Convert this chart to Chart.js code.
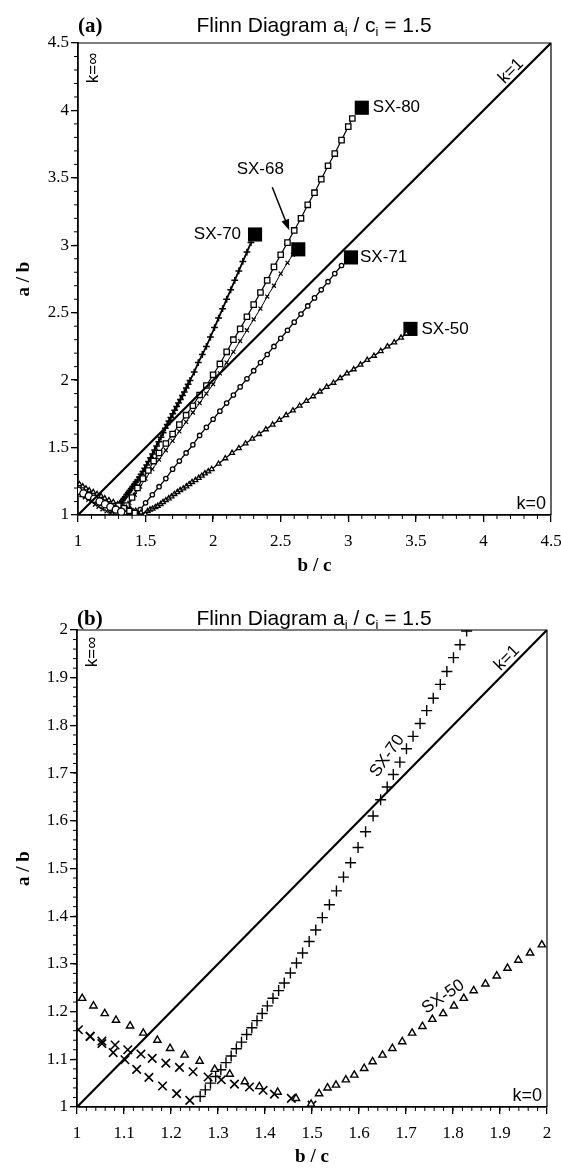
<!DOCTYPE html>
<html>
<head>
<meta charset="utf-8">
<script src="https://cdn.jsdelivr.net/npm/chart.js@4.4.1/dist/chart.umd.min.js"></script>
<style>
  html, body { margin: 0; padding: 0; background: #fff; }
  .panel { position: relative; width: 561px; }
  #wrapA { height: 580px; }
  #wrapB { height: 588px; }
</style>
</head>
<body>
<div class="panel" id="wrapA"><canvas id="chartA"></canvas></div>
<div class="panel" id="wrapB"><canvas id="chartB"></canvas></div>
<script>
var SERIF = '"Liberation Serif", "Times New Roman", serif';
var SANS = '"Liberation Sans", Arial, sans-serif';

// title pieces: [text, isSubscript]
var titleParts = [['Flinn Diagram a', 0], ['i', 1], [' / c', 0], ['i', 1], [' = 1.5', 0]];

// tick labels
var ticksA = [1, 1.5, 2, 2.5, 3, 3.5, 4, 4.5];
var ticksB = [1, 1.1, 1.2, 1.3, 1.4, 1.5, 1.6, 1.7, 1.8, 1.9, 2];

// k = 1 reference line
var kLineA = [1, 4.5];
var kLineB = [1, 2];

// final states (filled squares)
var sampleNames = ['SX-80', 'SX-68', 'SX-70', 'SX-71', 'SX-50'];
var endBC = [3.10, 2.63, 2.31, 3.02, 3.46];
var endAB = [4.02, 2.97, 3.08, 2.91, 2.38];

// SX-70
var sx70FallBC = [1.003, 1.028, 1.053, 1.077, 1.102, 1.127, 1.153, 1.182, 1.212, 1.240];
var sx70FallAB = [1.162, 1.148, 1.133, 1.114, 1.099, 1.079, 1.062, 1.044, 1.028, 1.014];
var sx70RiseBC = [1.262, 1.273, 1.284, 1.295, 1.306, 1.317, 1.328, 1.339, 1.350, 1.361,
                  1.372, 1.383, 1.394, 1.405, 1.417, 1.429, 1.441, 1.454, 1.467, 1.480,
                  1.494, 1.508, 1.522, 1.537, 1.552, 1.567, 1.582, 1.598, 1.614, 1.630,
                  1.646, 1.660, 1.673, 1.687, 1.701, 1.715, 1.730, 1.744, 1.758, 1.773,
                  1.787, 1.801, 1.815, 1.829, 1.86, 1.89, 1.92, 1.95, 1.98, 2.01,
                  2.04, 2.07, 2.10, 2.13, 2.16, 2.19, 2.22, 2.25, 2.28];
var sx70RiseAB = [1.022, 1.036, 1.050, 1.064, 1.078, 1.093, 1.107, 1.122, 1.136, 1.152,
                  1.166, 1.181, 1.196, 1.212, 1.228, 1.244, 1.260, 1.281, 1.302, 1.323,
                  1.347, 1.371, 1.397, 1.424, 1.453, 1.482, 1.512, 1.544, 1.577, 1.610,
                  1.644, 1.671, 1.697, 1.723, 1.751, 1.777, 1.804, 1.831, 1.857, 1.886,
                  1.913, 1.942, 1.969, 1.998, 2.06, 2.13, 2.19, 2.25, 2.32, 2.39,
                  2.46, 2.53, 2.60, 2.67, 2.74, 2.81, 2.88, 2.95, 3.02];

// SX-50
var sx50FallBC = [1.011, 1.035, 1.059, 1.083, 1.113, 1.141, 1.171, 1.198, 1.229, 1.261,
                  1.293, 1.325, 1.357, 1.388, 1.427, 1.466, 1.498];
var sx50FallAB = [1.228, 1.212, 1.196, 1.182, 1.170, 1.155, 1.140, 1.123, 1.109, 1.096,
                  1.079, 1.069, 1.053, 1.043, 1.031, 1.018, 1.006];
var sx50CrossBC = [1.028, 1.053, 1.081, 1.108, 1.136, 1.160, 1.189, 1.218, 1.247, 1.279,
                   1.307, 1.335, 1.367, 1.396, 1.420, 1.456, 1.500];
var sx50CrossAB = [1.148, 1.138, 1.130, 1.120, 1.111, 1.102, 1.092, 1.083, 1.074, 1.063,
                   1.057, 1.048, 1.042, 1.035, 1.027, 1.018, 1.004];
var sx50RiseBC = [1.515, 1.533, 1.551, 1.572, 1.590, 1.611, 1.629, 1.650, 1.671, 1.692,
                  1.713, 1.735, 1.756, 1.779, 1.802, 1.823, 1.844, 1.869, 1.893, 1.916,
                  1.939, 1.964, 1.989, 2.04, 2.09, 2.14, 2.19, 2.24, 2.29, 2.34,
                  2.39, 2.44, 2.49, 2.54, 2.59, 2.64, 2.69, 2.74, 2.79, 2.84,
                  2.89, 2.94, 2.99, 3.04, 3.09, 3.14, 3.19, 3.24, 3.29, 3.34,
                  3.39, 3.43];
var sx50RiseAB = [1.028, 1.040, 1.046, 1.057, 1.067, 1.081, 1.095, 1.109, 1.123, 1.137,
                  1.155, 1.169, 1.184, 1.196, 1.212, 1.228, 1.244, 1.258, 1.275, 1.291,
                  1.308, 1.323, 1.340, 1.38, 1.42, 1.46, 1.495, 1.53, 1.565, 1.60,
                  1.635, 1.67, 1.705, 1.74, 1.775, 1.81, 1.845, 1.88, 1.915, 1.95,
                  1.98, 2.015, 2.05, 2.08, 2.115, 2.15, 2.18, 2.215, 2.25, 2.28,
                  2.315, 2.345];

// SX-80
var sx80FallBC = [1.00, 1.04, 1.08, 1.12, 1.16, 1.20, 1.24, 1.28, 1.32];
var sx80FallAB = [1.18, 1.16, 1.14, 1.12, 1.10, 1.08, 1.06, 1.04, 1.025];
var sx80RiseBC = [1.36, 1.40, 1.44, 1.48, 1.52, 1.56, 1.60, 1.65, 1.70, 1.75,
                  1.80, 1.85, 1.90, 1.95, 2.00, 2.05, 2.10, 2.15, 2.20, 2.25,
                  2.30, 2.35, 2.40, 2.45, 2.50, 2.55, 2.60, 2.65, 2.70, 2.75,
                  2.80, 2.85, 2.90, 2.95, 3.00, 3.03];
var sx80RiseAB = [1.07, 1.13, 1.20, 1.27, 1.33, 1.40, 1.46, 1.53, 1.60, 1.67,
                  1.74, 1.81, 1.89, 1.96, 2.04, 2.12, 2.21, 2.30, 2.38, 2.47,
                  2.56, 2.65, 2.74, 2.84, 2.93, 3.02, 3.11, 3.20, 3.30, 3.39,
                  3.49, 3.59, 3.68, 3.78, 3.88, 3.94];

// SX-68
var sx68RiseBC = [1.34, 1.38, 1.42, 1.46, 1.50, 1.55, 1.60, 1.65, 1.70, 1.75,
                  1.80, 1.85, 1.90, 1.95, 2.00, 2.05, 2.10, 2.15, 2.20, 2.25,
                  2.30, 2.35, 2.40, 2.45, 2.50, 2.55, 2.59];
var sx68RiseAB = [1.04, 1.09, 1.15, 1.21, 1.27, 1.34, 1.41, 1.48, 1.55, 1.62,
                  1.69, 1.76, 1.83, 1.90, 1.97, 2.05, 2.13, 2.21, 2.29, 2.37,
                  2.45, 2.53, 2.62, 2.70, 2.79, 2.87, 2.93];

// SX-71
var sx71FallBC = [1.30, 1.34, 1.38, 1.42];
var sx71FallAB = [1.07, 1.05, 1.03, 1.015];
var sx71RiseBC = [1.46, 1.50, 1.55, 1.60, 1.65, 1.70, 1.75, 1.80, 1.85, 1.90,
                  1.95, 2.00, 2.05, 2.10, 2.15, 2.20, 2.25, 2.30, 2.35, 2.40,
                  2.45, 2.50, 2.55, 2.60, 2.65, 2.70, 2.75, 2.80, 2.85, 2.90,
                  2.95];
var sx71RiseAB = [1.04, 1.09, 1.15, 1.21, 1.27, 1.34, 1.40, 1.46, 1.52, 1.59,
                  1.65, 1.71, 1.77, 1.83, 1.89, 1.95, 2.01, 2.07, 2.13, 2.19,
                  2.25, 2.31, 2.37, 2.43, 2.49, 2.55, 2.61, 2.67, 2.73, 2.79,
                  2.85];

function series(xs, ys, style, r, extra) {
    var ds = {
        data: xs.map(function(x, i) { return { x: x, y: ys[i] }; }),
        pointStyle: style,
        pointRadius: r,
        pointHoverRadius: r,
        pointBorderColor: '#000',
        pointBackgroundColor: '#fff',
        pointBorderWidth: 1,
        borderColor: '#000',
        borderWidth: 1,
        showLine: false
    };
    return Object.assign(ds, extra || {});
}

function rotText(ctx, text, x, y, ang) {
    ctx.save();
    ctx.translate(x, y);
    ctx.rotate(ang);
    ctx.textAlign = 'center';
    ctx.textBaseline = 'middle';
    ctx.fillText(text, 0, 0);
    ctx.restore();
}

function arrow(ctx, x0, y0, x1, y1) {
    var ang = Math.atan2(y1 - y0, x1 - x0), L = 11, W = 4;
    ctx.lineWidth = 1.5;
    ctx.beginPath();
    ctx.moveTo(x0, y0);
    ctx.lineTo(x1 - 6 * Math.cos(ang), y1 - 6 * Math.sin(ang));
    ctx.stroke();
    ctx.beginPath();
    ctx.moveTo(x1, y1);
    ctx.lineTo(x1 - L * Math.cos(ang) + W * Math.sin(ang), y1 - L * Math.sin(ang) - W * Math.cos(ang));
    ctx.lineTo(x1 - L * Math.cos(ang) - W * Math.sin(ang), y1 - L * Math.sin(ang) + W * Math.cos(ang));
    ctx.closePath();
    ctx.fill();
}

function drawTitle(ctx, cx, y) {
    var big = '21px ' + SANS, small = '13px ' + SANS, w = 0;
    titleParts.forEach(function(p) {
        ctx.font = p[1] ? small : big;
        w += ctx.measureText(p[0]).width;
    });
    var x = cx - w / 2;
    ctx.textAlign = 'left';
    ctx.textBaseline = 'alphabetic';
    titleParts.forEach(function(p) {
        ctx.font = p[1] ? small : big;
        ctx.fillText(p[0], x, y + (p[1] ? 4 : 0));
        x += ctx.measureText(p[0]).width;
    });
}

// frame, minor ticks, titles and text labels
var decor = {
    id: 'decor',
    afterDraw: function(chart, args, o) {
        var ctx = chart.ctx, a = chart.chartArea;
        var xs = chart.scales.x, ys = chart.scales.y;
        var i, n, p;
        ctx.save();
        ctx.strokeStyle = '#000';
        ctx.fillStyle = '#000';

        ctx.lineWidth = 1.2;
        ctx.beginPath();
        ctx.moveTo(a.left, a.top);
        ctx.lineTo(a.right, a.top);
        ctx.lineTo(a.right, a.bottom);
        ctx.stroke();

        ctx.lineWidth = 1;
        ctx.beginPath();
        n = Math.round((xs.max - xs.min) / o.minor);
        for (i = 1; i < n; i++) {
            p = xs.getPixelForValue(xs.min + i * o.minor);
            ctx.moveTo(p, a.bottom);
            ctx.lineTo(p, a.bottom + 4);
        }
        n = Math.round((ys.max - ys.min) / o.minor);
        for (i = 1; i < n; i++) {
            p = ys.getPixelForValue(ys.min + i * o.minor);
            ctx.moveTo(a.left, p);
            ctx.lineTo(a.left - 4, p);
        }
        ctx.stroke();

        ctx.font = 'bold 21px ' + SERIF;
        ctx.textAlign = 'left';
        ctx.textBaseline = 'alphabetic';
        ctx.fillText(o.letter, a.left, o.titleY);
        drawTitle(ctx, o.titleX, o.titleY);

        ctx.font = '17px ' + SANS;
        rotText(ctx, 'k=\u221E', a.left + 15, a.top + o.kInfDy, -Math.PI / 2);
        var ang = Math.atan2(ys.getPixelForValue(ys.max) - ys.getPixelForValue(ys.min),
                             xs.getPixelForValue(xs.max) - xs.getPixelForValue(xs.min));
        rotText(ctx, 'k=1', a.right - 40, a.top + 28, ang);
        ctx.font = '18px ' + SANS;
        ctx.textAlign = 'right';
        ctx.textBaseline = 'alphabetic';
        ctx.fillText('k=0', a.right - 5, a.bottom - 6);

        ctx.font = '17px ' + SANS;
        (o.labels || []).forEach(function(l) {
            var px = xs.getPixelForValue(l.x), py = ys.getPixelForValue(l.y);
            if (l.rot) {
                rotText(ctx, l.text, px, py, l.rot * Math.PI / 180);
            } else {
                ctx.textAlign = l.align;
                ctx.textBaseline = 'middle';
                ctx.fillText(l.text, px + l.dx, py + l.dy);
            }
            if (l.arrow) {
                arrow(ctx, px + l.arrow[0], py + l.arrow[1], px + l.arrow[2], py + l.arrow[3]);
            }
        });
        ctx.restore();
    }
};
Chart.register(decor);

function axisOpts(min, max, tickList, title, dir, size, titlePad) {
    return {
        type: 'linear',
        min: min,
        max: max,
        border: { display: true, color: '#000', width: 1.8 },
        grid: { display: true, drawOnChartArea: false, drawTicks: true, tickLength: 7, color: '#000', lineWidth: 1.3 },
        ticks: {
            color: '#000',
            font: { family: SERIF, size: 17 },
            padding: dir === 'x' ? 9 : 2,
            autoSkip: false,
            maxRotation: 0,
            callback: function(v) { return String(v); }
        },
        afterBuildTicks: function(s) {
            s.ticks = tickList.map(function(v) { return { value: v }; });
        },
        title: {
            display: true,
            text: title,
            color: '#000',
            font: { family: SERIF, size: 19, weight: 'bold' },
            padding: titlePad
        },
        afterFit: function(s) {
            if (dir === 'x') {
                s.height = size;
                s.paddingLeft = 0;
                s.paddingRight = 0;
            } else {
                s.width = size;
                s.paddingTop = 0;
                s.paddingBottom = 0;
            }
        }
    };
}

function buildOptions(c) {
    return {
        responsive: true,
        maintainAspectRatio: false,
        animation: false,
        devicePixelRatio: 1,
        layout: { padding: { top: c.padTop, right: c.padRight, left: 0, bottom: 0 } },
        plugins: {
            legend: { display: false },
            tooltip: { enabled: false },
            decor: c.decor
        },
        scales: {
            x: axisOpts(c.min, c.max, c.ticks, 'b / c', 'x', c.xHeight, { top: 0, bottom: c.xTitlePad }),
            y: axisOpts(c.min, c.max, c.ticks, 'a / b', 'y', c.yWidth, { top: 13, bottom: 0 })
        }
    };
}

// panel (a): all samples
var labelsA = sampleNames.map(function(name, i) {
    var l = { text: name, x: endBC[i], y: endAB[i], dx: 11, dy: 0, align: 'left' };
    if (name === 'SX-68') { l.dx = -38; l.dy = -80; l.align = 'center'; l.arrow = [-26, -62, -9, -19]; }
    if (name === 'SX-70') { l.dx = -14; l.align = 'right'; }
    if (name === 'SX-71') { l.dx = 9; }
    return l;
});

new Chart(document.getElementById('chartA'), {
    type: 'scatter',
    data: {
        datasets: [
            series(kLineA, kLineA, false, 0, { showLine: true, borderWidth: 2.2 }),
            series(sx80FallBC, sx80FallAB, 'circle', 3.6, { pointBorderWidth: 1.3 }),
            series(sx71FallBC, sx71FallAB, 'rect', 3.6, { pointBorderWidth: 1.3 }),
            series(sx50FallBC, sx50FallAB, 'triangle', 2.8, { pointBorderWidth: 1.3 }),
            series(sx50CrossBC, sx50CrossAB, 'crossRot', 3, { pointBorderWidth: 1.3 }),
            series(sx70FallBC, sx70FallAB, 'crossRot', 3, { pointBorderWidth: 1.3 }),
            series(sx80RiseBC, sx80RiseAB, 'rect', 3.8, { showLine: true, borderWidth: 1.2, pointBorderWidth: 1.3 }),
            series(sx68RiseBC, sx68RiseAB, 'crossRot', 2.8, { showLine: true, borderWidth: 1, pointBorderWidth: 1.2 }),
            series(sx70RiseBC, sx70RiseAB, 'cross', 3.4, { showLine: true, borderWidth: 1.8, pointBorderWidth: 1.5 }),
            series(sx71RiseBC, sx71RiseAB, 'circle', 2.2, { showLine: true, borderWidth: 1.3, pointBorderWidth: 1.3 }),
            series(sx50RiseBC, sx50RiseAB, 'triangle', 2.8, { showLine: true, borderWidth: 1.3, pointBorderWidth: 1.3 }),
            series(endBC, endAB, 'rect', 10, { pointBackgroundColor: '#000', pointBorderWidth: 0 })
        ]
    },
    options: buildOptions({
        min: 1, max: 4.5, ticks: ticksA,
        padTop: 43, padRight: 9, xHeight: 65, yWidth: 78, xTitlePad: 3,
        decor: { letter: '(a)', titleX: 314, titleY: 32, minor: 0.1, kInfDy: 25, labels: labelsA }
    })
});

// panel (b): close-up of SX-70 and SX-50
var labelsB = [
    { text: 'SX-70', x: 1.66, y: 1.736, rot: -55 },
    { text: 'SX-50', x: 1.779, y: 1.231, rot: -34 }
];

new Chart(document.getElementById('chartB'), {
    type: 'scatter',
    data: {
        datasets: [
            series(kLineB, kLineB, false, 0, { showLine: true, borderWidth: 2.2 }),
            series(sx50FallBC, sx50FallAB, 'triangle', 4.2, { pointBorderWidth: 1.4 }),
            series(sx50CrossBC, sx50CrossAB, 'crossRot', 6, { pointBorderWidth: 1.6 }),
            series(sx70FallBC, sx70FallAB, 'crossRot', 6, { pointBorderWidth: 1.6 }),
            series(sx70RiseBC, sx70RiseAB, 'cross', 5.5, { pointBorderWidth: 1.4 }),
            series(sx50RiseBC, sx50RiseAB, 'triangle', 4.2, { pointBorderWidth: 1.4 })
        ]
    },
    options: buildOptions({
        min: 1, max: 2, ticks: ticksB,
        padTop: 50, padRight: 14, xHeight: 61, yWidth: 77, xTitlePad: 0,
        decor: { letter: '(b)', titleX: 314, titleY: 45, minor: 0.02, kInfDy: 22, labels: labelsB }
    })
});
</script>
</body>
</html>
